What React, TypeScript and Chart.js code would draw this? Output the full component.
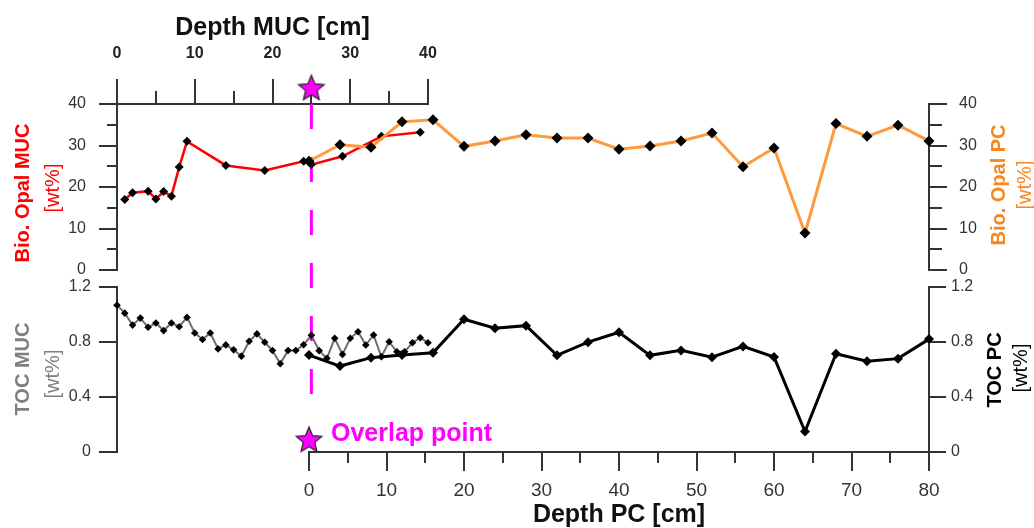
import React, { useEffect, useRef } from "react";
import { Chart, registerables } from "chart.js";

Chart.register(...registerables);

const W = 1034;
const H = 528;
const FONT = "Arial, 'Liberation Sans', Helvetica, sans-serif";
Chart.defaults.font.family = FONT;

// ---------- data ----------
// Multicorer (MUC) biogenic opal
const opalMucDepth = [1, 2, 4, 5, 6, 7, 8, 9, 14, 19, 24, 25, 29, 34, 39];
const opalMuc = [17.0, 18.6, 19.0, 17.1, 18.9, 17.8, 24.8, 31.0, 25.2, 24.0, 26.2, 25.4, 27.4, 32.2, 33.2];

// Multicorer (MUC) TOC
const tocMucDepth = [
  0, 1, 2, 3, 4, 5, 6, 7, 8, 9, 10, 11, 12, 13, 14, 15, 16, 17, 18, 19, 20,
  21, 22, 23, 24, 25, 26, 27, 28, 29, 30, 31, 32, 33, 34, 35, 36, 37, 38, 39, 40,
];
const tocMuc = [
  1.068, 1.01, 0.923, 0.974, 0.907, 0.938, 0.883, 0.938, 0.911, 0.979, 0.866,
  0.818, 0.866, 0.75, 0.779, 0.743, 0.697, 0.806, 0.859, 0.798, 0.738,
  0.642, 0.738, 0.738, 0.78, 0.849, 0.737, 0.681, 0.827, 0.71, 0.827,
  0.875, 0.778, 0.851, 0.693, 0.802, 0.729, 0.729, 0.795, 0.831, 0.795,
];

// Piston core (PC)
const pcDepth = [0, 4, 8, 12, 16, 20, 24, 28, 32, 36, 40, 44, 48, 52, 56, 60, 64, 68, 72, 76, 80];
const opalPc = [26.2, 30.2, 29.6, 35.7, 36.2, 29.8, 31.1, 32.6, 31.8, 31.8, 29.1, 29.9, 31.1, 33.0, 24.9, 29.4, 8.9, 35.3, 32.2, 34.9, 31.1];
const tocPc = [0.705, 0.625, 0.686, 0.705, 0.722, 0.965, 0.9, 0.919, 0.703, 0.799, 0.871, 0.703, 0.739, 0.689, 0.768, 0.691, 0.149, 0.715, 0.66, 0.679, 0.821];

// Overlap marker: MUC 25 cm == PC 0 cm
const overlapMuc = 25;
const overlapPc = 0;
const overlapStarOpal = 44; // star drawn just above the MUC depth axis
const overlapLineOpal = [40, -30]; // dashed line extent (in opal units)
const overlapStarToc = 0.093;

// axis ranges
const mucRange = [0, 40];
const pcRange = [0, 80];
const opalRange = [0, 40];
const tocRange = [0, 1.2];

// ---------- styling ----------
const AX = "#333";
const RED = "#ff0000";
const ORANGE = "#ff9a3c";
const GRAY = "#6d6d6d";
const MAGENTA = "#ff00ff";

// panel frames in page pixels
const L = 117;
const MID = 309;
const MUC_R = 428;
const R = 929;
const TOP1 = 104;
const BOT1 = 270;
const TOP2 = 287;
const BOT2 = 452;

type AxisOpts = {
  pos: "top" | "bottom" | "left" | "right";
  range: number[];
  step: number;
  tick: number;
  size: number;
  weight: number;
  border: boolean;
  labels?: { size: number; bold?: boolean; color: string; padding: number; fmt?: (v: number) => string };
  title?: { text: string; padTop: number; padBottom: number };
};

function axis(o: AxisOpts): any {
  const horiz = o.pos === "top" || o.pos === "bottom";
  return {
    type: "linear",
    position: o.pos,
    min: o.range[0],
    max: o.range[1],
    weight: o.weight,
    ticks: {
      stepSize: o.step,
      autoSkip: false,
      maxRotation: 0,
      display: !!o.labels,
      color: o.labels ? o.labels.color : AX,
      padding: o.labels ? o.labels.padding : 0,
      font: o.labels
        ? { family: FONT, size: o.labels.size, weight: o.labels.bold ? "bold" : "normal", lineHeight: 1.2 }
        : undefined,
      callback: o.labels && o.labels.fmt ? (v: any) => o.labels!.fmt!(Number(v)) : undefined,
    },
    grid: {
      display: true,
      drawOnChartArea: false,
      drawTicks: true,
      tickLength: o.tick,
      color: AX,
      lineWidth: 2,
    },
    border: { display: o.border, color: AX, width: 2 },
    title: o.title
      ? {
          display: true,
          text: o.title.text,
          color: "#111",
          font: { family: FONT, size: 25, weight: "bold", lineHeight: 1 },
          padding: { top: o.title.padTop, bottom: o.title.padBottom },
        }
      : { display: false },
    afterFit: (s: any) => {
      if (horiz) s.height = o.size;
      else s.width = o.size;
    },
  };
}

function hiddenX(range: number[]): any {
  return { type: "linear", min: range[0], max: range[1], display: false };
}

const tocFmt = (v: number) => String(Math.round(v * 10) / 10);

function baseOptions(padding: any, scales: any): any {
  return {
    animation: false,
    responsive: false,
    maintainAspectRatio: false,
    events: [],
    layout: { padding, autoPadding: false },
    plugins: { legend: { display: false }, tooltip: { enabled: false } },
    scales,
  };
}

function pts(xs: number[], ys: number[]) {
  return xs.map((x, i) => ({ x, y: ys[i] }));
}

function makeStar(): HTMLCanvasElement {
  const c = document.createElement("canvas");
  const Ro = 13.5;
  const ri = Ro * 0.45;
  c.width = 30;
  c.height = 28;
  const ctx = c.getContext("2d")!;
  const cx = c.width / 2;
  const cos36 = Math.cos(Math.PI / 5);
  const cy = c.height / 2 + (Ro - Ro * cos36) / 2;
  ctx.beginPath();
  for (let i = 0; i < 10; i++) {
    const rad = i % 2 === 0 ? Ro : ri;
    const a = -Math.PI / 2 + (i * Math.PI) / 5;
    const px = cx + rad * Math.cos(a);
    const py = cy + rad * Math.sin(a);
    if (i === 0) ctx.moveTo(px, py);
    else ctx.lineTo(px, py);
  }
  ctx.closePath();
  ctx.fillStyle = MAGENTA;
  ctx.fill();
  ctx.lineWidth = 1.2;
  ctx.strokeStyle = "#222";
  ctx.stroke();
  return c;
}

const yLabel = { size: 16, color: "#333" };

export default function App() {
  const refA = useRef<HTMLCanvasElement>(null);
  const refB = useRef<HTMLCanvasElement>(null);
  const refC = useRef<HTMLCanvasElement>(null);
  const refD = useRef<HTMLCanvasElement>(null);

  useEffect(() => {
    const star = makeStar();

    // A: MUC biogenic opal (top-left)
    const chartA = new Chart(refA.current!, {
      type: "line",
      data: {
        datasets: [
          {
            data: pts(opalMucDepth, opalMuc),
            borderColor: RED,
            borderWidth: 2.5,
            pointStyle: "rectRot",
            pointRadius: 4.5,
            pointBackgroundColor: "#000",
            pointBorderColor: "#000",
            pointBorderWidth: 0,
            tension: 0,
            order: 1,
          },
          {
            data: [
              { x: overlapMuc, y: overlapLineOpal[0] },
              { x: overlapMuc, y: overlapLineOpal[1] },
            ],
            borderColor: MAGENTA,
            borderWidth: 3,
            borderDash: [25, 28],
            pointRadius: 0,
            clip: false,
            order: 3,
          },
          {
            data: [{ x: overlapMuc, y: overlapStarOpal }],
            showLine: false,
            pointStyle: star as any,
            pointRadius: 30,
            pointBorderWidth: 0,
            clip: false,
            order: 0,
          },
        ] as any,
      },
      options: baseOptions(
        { left: 0, top: 0, right: W - MUC_R, bottom: H - BOT1 },
        {
          x: axis({
            pos: "top", range: mucRange, step: 10, tick: 25, size: TOP1, weight: 1, border: true,
            labels: { size: 16, bold: true, color: "#222", padding: 16 },
            title: { text: "Depth MUC [cm]", padTop: 15.5, padBottom: 0 },
          }),
          xm: axis({ pos: "top", range: mucRange, step: 5, tick: 13, size: 0, weight: 0, border: false }),
          y: axis({
            pos: "left", range: opalRange, step: 10, tick: 18, size: L, weight: 1, border: true,
            labels: { ...yLabel, padding: 13 },
          }),
          ym: axis({ pos: "left", range: opalRange, step: 5, tick: 10, size: 0, weight: 0, border: false }),
        }
      ),
    });

    // B: PC biogenic opal (top-right)
    const chartB = new Chart(refB.current!, {
      type: "line",
      data: {
        datasets: [
          {
            data: pts(pcDepth, opalPc),
            borderColor: ORANGE,
            borderWidth: 3,
            pointStyle: "rectRot",
            pointRadius: 5.5,
            pointBackgroundColor: "#000",
            pointBorderColor: "#000",
            pointBorderWidth: 0,
            tension: 0,
            clip: false,
          },
        ] as any,
      },
      options: baseOptions(
        { left: MID, top: TOP1, right: 0, bottom: H - BOT1 },
        {
          x: hiddenX(pcRange),
          y: axis({
            pos: "right", range: opalRange, step: 10, tick: 18, size: W - R, weight: 1, border: true,
            labels: { ...yLabel, padding: 12 },
          }),
          ym: axis({ pos: "right", range: opalRange, step: 5, tick: 13, size: 0, weight: 0, border: false }),
        }
      ),
    });

    // C: MUC TOC (bottom-left)
    const chartC = new Chart(refC.current!, {
      type: "line",
      data: {
        datasets: [
          {
            data: pts(tocMucDepth, tocMuc),
            borderColor: GRAY,
            borderWidth: 2,
            pointStyle: "rectRot",
            pointRadius: 3.8,
            pointBackgroundColor: "#000",
            pointBorderColor: "#000",
            pointBorderWidth: 0,
            tension: 0,
            clip: false,
          },
        ] as any,
      },
      options: baseOptions(
        { left: 0, top: TOP2, right: W - MUC_R, bottom: H - BOT2 },
        {
          x: hiddenX(mucRange),
          y: axis({
            pos: "left", range: tocRange, step: 0.4, tick: 18, size: L, weight: 1, border: true,
            labels: { ...yLabel, padding: 8, fmt: tocFmt },
          }),
        }
      ),
    });

    // D: PC TOC (bottom-right)
    const chartD = new Chart(refD.current!, {
      type: "line",
      data: {
        datasets: [
          {
            data: pts(pcDepth, tocPc),
            borderColor: "#000",
            borderWidth: 3,
            pointStyle: "rectRot",
            pointRadius: 5,
            pointBackgroundColor: "#000",
            pointBorderColor: "#000",
            pointBorderWidth: 0,
            tension: 0,
            clip: false,
            order: 1,
          },
          {
            data: [{ x: overlapPc, y: overlapStarToc }],
            showLine: false,
            pointStyle: star as any,
            pointRadius: 30,
            pointBorderWidth: 0,
            clip: false,
            order: 0,
          },
        ] as any,
      },
      options: baseOptions(
        { left: MID, top: TOP2, right: 0, bottom: 0 },
        {
          x: axis({
            pos: "bottom", range: pcRange, step: 10, tick: 19, size: H - BOT2, weight: 1, border: true,
            labels: { size: 19, color: "#333", padding: 8 },
            title: { text: "Depth PC [cm]", padTop: 0, padBottom: 0 },
          }),
          xm: axis({ pos: "bottom", range: pcRange, step: 5, tick: 11, size: 0, weight: 0, border: false }),
          y: axis({
            pos: "right", range: tocRange, step: 0.4, tick: 17, size: W - R, weight: 1, border: true,
            labels: { ...yLabel, padding: 5, fmt: tocFmt },
          }),
        }
      ),
    });

    const charts = [chartA, chartB, chartC, chartD];
    return () => charts.forEach((c) => c.destroy());
  }, []);

  const canvasStyle: React.CSSProperties = { position: "absolute", left: 0, top: 0, width: W, height: H };

  const vText = (
    text: string,
    cx: number,
    cy: number,
    color: string,
    bold: boolean,
    size: number
  ) => (
    <div
      style={{
        position: "absolute",
        left: cx,
        top: cy,
        transform: "translate(-50%, -50%) rotate(-90deg)",
        whiteSpace: "nowrap",
        fontFamily: FONT,
        fontSize: size,
        fontWeight: bold ? "bold" : "normal",
        lineHeight: 1,
        color,
      }}
    >
      {text}
    </div>
  );

  return (
    <div
      style={{
        position: "absolute",
        left: 0,
        top: 0,
        width: W,
        height: H,
        overflow: "hidden",
        background: "#fff",
        fontFamily: FONT,
      }}
    >
      <canvas ref={refA} width={W} height={H} style={canvasStyle} />
      <canvas ref={refB} width={W} height={H} style={canvasStyle} />
      <canvas ref={refC} width={W} height={H} style={canvasStyle} />
      <canvas ref={refD} width={W} height={H} style={canvasStyle} />

      {vText("Bio. Opal MUC", 22, 193, RED, true, 20)}
      {vText("[wt%]", 52, 188, RED, false, 20)}
      {vText("TOC MUC", 22, 369, "#7f7f7f", true, 20)}
      {vText("[wt%]", 52, 374, "#7f7f7f", false, 20)}
      {vText("Bio. Opal PC", 998, 185, "#f7861e", true, 20)}
      {vText("[wt%]", 1024, 185, "#f7861e", false, 20)}
      {vText("TOC PC", 994, 370, "#000", true, 20)}
      {vText("[wt%]", 1020, 368, "#000", false, 20)}

      <div
        style={{
          position: "absolute",
          left: 331,
          top: 420,
          fontFamily: FONT,
          fontSize: 25,
          fontWeight: "bold",
          lineHeight: "25px",
          color: MAGENTA,
          whiteSpace: "nowrap",
        }}
      >
        Overlap point
      </div>
    </div>
  );
}
